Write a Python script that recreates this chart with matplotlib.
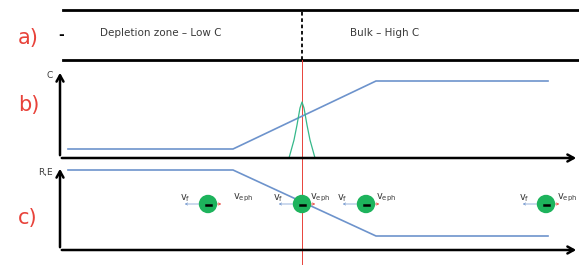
import matplotlib.pyplot as plt
from matplotlib.patches import Circle

# schematic drawn in pixel space of the 579x266 picture
W, H = 579, 266

# profile break points along x (pixels)
profile_x = [68, 233, 376, 548]
conc_y = [149, 149, 81, 81]        # b) concentration C
field_y = [170, 170, 236, 236]     # c) R,E

# green peak at the interface
peak_x = [289, 294, 297, 300, 302, 304, 307, 310, 315]
peak_y = [158, 140, 125, 108, 102, 108, 125, 140, 158]

interface_x = 302

# electrons in panel c) and their label offsets
electron_x = [208, 302, 366, 546]
electron_y = 204
vf_label_x = [180, 273, 337, 519]
veph_label_x = [233, 310, 376, 557]

RED = '#e8423a'
BLUE = '#6d93cc'
GREEN = '#1db35c'
TEXT = '#3a3a3a'

fig = plt.figure(figsize=(W / 100, H / 100), dpi=100)
ax = fig.add_axes([0, 0, 1, 1])
ax.set_xlim(0, W)
ax.set_ylim(H, 0)
ax.axis('off')

# ---- a) layer strip
ax.plot([63, 579], [10, 10], color='black', lw=2)
ax.plot([63, 579], [60, 60], color='black', lw=2)
ax.plot([interface_x, interface_x], [12, 60], color='black', lw=1.3, ls=(0, (2, 1.5)))
ax.text(18, 38, 'a)', color=RED, fontsize=15, va='center')
ax.text(58, 35, '-', color='black', fontsize=10, va='center', fontweight='bold')
ax.text(100, 33, 'Depletion zone \u2013 Low C', color=TEXT, fontsize=7.5, va='center')
ax.text(350, 33, 'Bulk \u2013 High C', color=TEXT, fontsize=7.5, va='center')

# red interface line through b) and c)
ax.plot([interface_x, interface_x], [60, 264], color=RED, lw=0.7)

# ---- axes arrows for b) and c)
arrow = dict(arrowstyle='->,head_width=0.25,head_length=0.45', color='black', lw=1.8)
for base, top, label, lab_y, panel, panel_y in [(158, 70, 'C', 76, 'b)', 105),
                                                (250, 166, 'R,E', 172, 'c)', 218)]:
    ax.annotate('', xy=(60, top), xytext=(60, base), arrowprops=arrow)
    ax.annotate('', xy=(579, base), xytext=(59, base), arrowprops=arrow)
    ax.text(53, lab_y, label, color=TEXT, fontsize=6.5, ha='right', va='center')
    ax.text(18, panel_y, panel, color=RED, fontsize=15, va='center')

# ---- b) concentration profile + peak
ax.plot(profile_x, conc_y, color=BLUE, lw=1.2)
ax.plot(peak_x, peak_y, color='#35b88a', lw=0.9)

# ---- c) field profile
ax.plot(profile_x, field_y, color=BLUE, lw=1.2)

small = dict(arrowstyle='->,head_width=0.08,head_length=0.15', lw=0.5)
for ex, fx, px in zip(electron_x, vf_label_x, veph_label_x):
    ax.annotate('', xy=(ex - 26, electron_y), xytext=(ex, electron_y),
                arrowprops=dict(small, color=BLUE), zorder=2)
    ax.annotate('', xy=(ex + 16, electron_y), xytext=(ex, electron_y),
                arrowprops=dict(small, color=RED), zorder=2)
    ax.add_patch(Circle((ex, electron_y), 8.5, color=GREEN, zorder=3))
    ax.plot([ex - 2.5, ex + 2.5], [electron_y + 0.5, electron_y + 0.5],
            color='black', lw=1.8, zorder=4)
    ax.text(fx, electron_y - 6, r'v$_\mathrm{f}$', color=TEXT, fontsize=7, va='center')
    ax.text(px, electron_y - 6, r'v$_\mathrm{eph}$', color=TEXT, fontsize=7, va='center')

fig.savefig('out.png', dpi=100)
